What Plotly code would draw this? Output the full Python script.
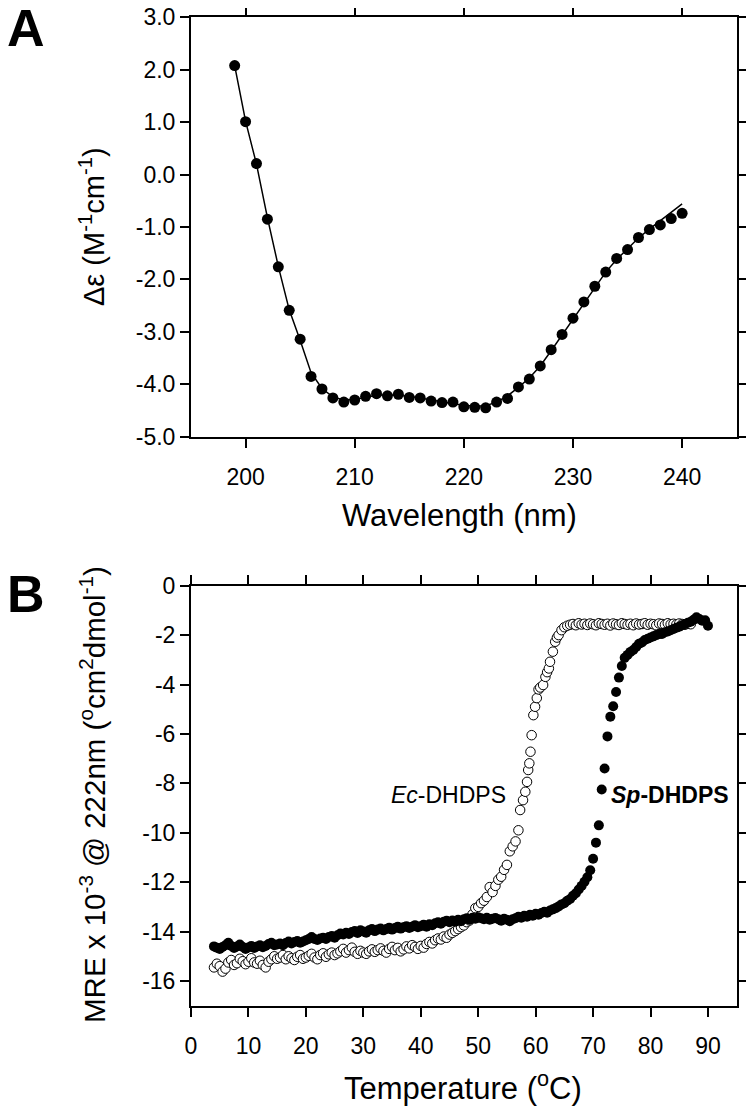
import plotly.graph_objects as go

# Panel A: far-UV CD spectrum
wavelength = [199, 200, 201, 202, 203, 204, 205, 206, 207, 208, 209, 210, 211, 212, 213,
              214, 215, 216, 217, 218, 219, 220, 221, 222, 223, 224, 225, 226, 227, 228,
              229, 230, 231, 232, 233, 234, 235, 236, 237, 238, 239, 240]
delta_eps = [2.08, 1.01, 0.21, -0.85, -1.76, -2.59, -3.14, -3.85, -4.09, -4.26, -4.34, -4.30,
             -4.23, -4.18, -4.22, -4.19, -4.25, -4.26, -4.32, -4.35, -4.34, -4.43, -4.44, -4.45,
             -4.34, -4.27, -4.05, -3.90, -3.65, -3.34, -3.05, -2.74, -2.43, -2.13, -1.86, -1.60,
             -1.43, -1.20, -1.05, -0.96, -0.84, -0.74]
delta_eps_fit = [2.08, 1.02, 0.20, -0.82, -1.75, -2.58, -3.16, -3.78, -4.08, -4.24, -4.30, -4.29,
                 -4.25, -4.21, -4.20, -4.21, -4.23, -4.26, -4.30, -4.34, -4.37, -4.40, -4.42, -4.41,
                 -4.34, -4.22, -4.06, -3.88, -3.65, -3.36, -3.06, -2.75, -2.45, -2.14, -1.86, -1.62,
                 -1.41, -1.21, -1.04, -0.88, -0.72, -0.56]
eps_ticks = [3, 2, 1, 0, -1, -2, -3, -4, -5]
eps_ticklabels = ["3.0", "2.0", "1.0", "0.0", "-1.0", "-2.0", "-3.0", "-4.0", "-5.0"]
wl_ticks = [200, 210, 220, 230, 240]

# Panel B: thermal denaturation, Sp-DHDPS (filled)
sp_temp = [4.0, 4.5, 5.0, 5.5, 6.0, 6.5, 7.0, 7.5, 8.0, 8.5, 9.0, 9.5, 10.0, 10.5, 11.0, 11.5,
           12.0, 12.5, 13.0, 13.5, 14.0, 14.5, 15.0, 15.5, 16.0, 16.5, 17.0, 17.5, 18.0, 18.5,
           19.0, 19.5, 20.0, 20.5, 21.0, 21.5, 22.0, 22.5, 23.0, 23.5, 24.0, 24.5, 25.0, 25.5,
           26.0, 26.5, 27.0, 27.5, 28.0, 28.5, 29.0, 29.5, 30.0, 30.5, 31.0, 31.5, 32.0, 32.5,
           33.0, 33.5, 34.0, 34.5, 35.0, 35.5, 36.0, 36.5, 37.0, 37.5, 38.0, 38.5, 39.0, 39.5,
           40.0, 40.5, 41.0, 41.5, 42.0, 42.5, 43.0, 43.5, 44.0, 44.5, 45.0, 45.5, 46.0, 46.5,
           47.0, 47.5, 48.0, 48.5, 49.0, 49.5, 50.0, 50.5, 51.0, 51.5, 52.0, 52.5, 53.0, 53.5,
           54.0, 54.5, 55.0, 55.5, 56.0, 56.5, 57.0, 57.5, 58.0, 58.5, 59.0, 59.5, 60.0, 60.5,
           61.0, 61.5, 62.0, 62.5, 63.0, 63.5, 64.0, 64.5, 65.0, 65.5, 66.0, 66.5, 67.0, 67.5,
           68.0, 68.5, 69.0, 69.5, 70.0, 70.5, 71.0, 71.5, 72.0, 72.5, 73.0, 73.5, 74.0, 74.5,
           75.0, 75.5, 76.0, 76.5, 77.0, 77.5, 78.0, 78.5, 79.0, 79.5, 80.0, 80.5, 81.0, 81.5,
           82.0, 82.5, 83.0, 83.5, 84.0, 84.5, 85.0, 85.5, 86.0, 86.5, 87.0, 87.5, 88.0, 88.5,
           89.0, 89.5, 90.0]
sp_mre = [-14.60, -14.65, -14.70, -14.62, -14.55, -14.45, -14.58, -14.66, -14.60, -14.52,
          -14.62, -14.70, -14.64, -14.58, -14.66, -14.60, -14.55, -14.63, -14.58, -14.50,
          -14.45, -14.55, -14.52, -14.48, -14.55, -14.46, -14.40, -14.48, -14.42, -14.38,
          -14.45, -14.40, -14.35, -14.30, -14.22, -14.30, -14.34, -14.28, -14.25, -14.30,
          -14.22, -14.18, -14.25, -14.15, -14.08, -14.12, -14.05, -14.10, -14.02, -13.98,
          -14.06, -13.95, -14.00, -14.05, -13.95, -13.90, -13.98, -13.92, -13.88, -13.95,
          -13.90, -13.84, -13.92, -13.86, -13.80, -13.88, -13.82, -13.78, -13.85, -13.80,
          -13.74, -13.82, -13.78, -13.72, -13.80, -13.70, -13.74, -13.66, -13.62, -13.68,
          -13.60, -13.56, -13.62, -13.55, -13.60, -13.52, -13.58, -13.50, -13.46, -13.52,
          -13.44, -13.48, -13.42, -13.46, -13.50, -13.44, -13.52, -13.48, -13.45, -13.50,
          -13.56, -13.48, -13.52, -13.58, -13.50, -13.46, -13.40, -13.44, -13.36, -13.40,
          -13.32, -13.36, -13.28, -13.32, -13.25, -13.20, -13.24, -13.15, -13.10, -13.05,
          -12.98, -12.90, -12.85, -12.75, -12.68, -12.55, -12.45, -12.30, -12.15, -11.98,
          -11.80, -11.52, -11.05, -10.40, -9.70, -8.25, -7.40, -6.10, -5.30, -4.88,
          -4.30, -3.72, -3.25, -2.92, -2.80, -2.68, -2.60, -2.48, -2.35, -2.30,
          -2.20, -2.15, -2.10, -2.05, -2.00, -1.96, -1.95, -1.88, -1.85, -1.80,
          -1.75, -1.70, -1.66, -1.60, -1.55, -1.50, -1.46, -1.38, -1.28, -1.35,
          -1.42, -1.40, -1.62]

# Panel B: Ec-DHDPS (open)
ec_temp = [4.0, 4.5, 5.0, 5.5, 6.0, 6.5, 7.0, 7.5, 8.0, 8.5, 9.0, 9.5, 10.0, 10.5, 11.0, 11.5,
           12.0, 12.5, 13.0, 13.5, 14.0, 14.5, 15.0, 15.5, 16.0, 16.5, 17.0, 17.5, 18.0, 18.5,
           19.0, 19.5, 20.0, 20.5, 21.0, 21.5, 22.0, 22.5, 23.0, 23.5, 24.0, 24.5, 25.0, 25.5,
           26.0, 26.5, 27.0, 27.5, 28.0, 28.5, 29.0, 29.5, 30.0, 30.5, 31.0, 31.5, 32.0, 32.5,
           33.0, 33.5, 34.0, 34.5, 35.0, 35.5, 36.0, 36.5, 37.0, 37.5, 38.0, 38.5, 39.0, 39.5,
           40.0, 40.5, 41.0, 41.5, 42.0, 42.5, 43.0, 43.5, 44.0, 44.5, 45.0, 45.5, 46.0, 46.5,
           47.0, 47.5, 48.0, 48.5, 49.0, 49.5, 50.0, 50.5, 51.0, 51.5, 52.0, 52.5, 53.0, 53.5,
           54.0, 54.5, 55.0, 55.5, 56.0, 56.5, 57.0, 57.3, 57.8, 58.2, 58.5, 58.7, 58.9, 59.1,
           59.3, 59.6, 59.9, 60.2, 60.5, 60.8, 61.3, 61.7, 62.0, 62.3, 62.5, 63.0, 63.4, 63.7,
           64.0, 64.5, 65.0, 65.5, 66.0, 66.5, 67.0, 67.5, 68.0, 68.5, 69.0, 69.5, 70.0, 70.5,
           71.0, 71.5, 72.0, 72.5, 73.0, 73.5, 74.0, 74.5, 75.0, 75.5, 76.0, 76.5, 77.0, 77.5,
           78.0, 78.5, 79.0, 79.5, 80.0, 80.5, 81.0, 81.5, 82.0, 82.5, 83.0, 83.5, 84.0, 84.5,
           85.0, 85.5, 86.0, 86.5, 87.0, 87.5, 88.0, 88.5, 89.0, 89.5, 90.0]
ec_mre = [-15.45, -15.30, -15.40, -15.62, -15.50, -15.25, -15.15, -15.35, -15.28, -15.10,
          -15.20, -15.32, -15.22, -15.08, -15.25, -15.30, -15.18, -15.35, -15.45, -15.22,
          -15.12, -15.00, -15.10, -15.05, -14.95, -15.12, -15.00, -15.08, -15.15, -15.02,
          -14.95, -15.10, -15.05, -14.98, -14.90, -15.05, -15.12, -14.95, -14.88, -15.02,
          -14.92, -14.85, -14.95, -14.88, -14.80, -14.70, -14.85, -14.75, -14.65, -14.82,
          -14.90, -14.78, -14.85, -14.90, -14.80, -14.72, -14.82, -14.75, -14.68, -14.78,
          -14.85, -14.70, -14.62, -14.75, -14.66, -14.80, -14.72, -14.60, -14.68, -14.55,
          -14.62, -14.70, -14.58, -14.65, -14.50, -14.42, -14.48, -14.35, -14.28, -14.32,
          -14.20, -14.25, -14.12, -14.05, -13.98, -13.90, -13.82, -13.75, -13.62, -13.55,
          -13.30, -13.05, -13.00, -12.85, -12.75, -12.60, -12.20, -12.40, -12.15, -11.90,
          -11.78, -11.50, -11.30, -10.75, -10.55, -10.35, -9.90, -9.08, -8.68, -8.34,
          -7.94, -7.46, -7.19, -6.72, -6.05, -5.24, -4.90, -4.55, -4.20, -4.12,
          -4.02, -3.69, -3.50, -3.35, -3.08, -2.67, -2.27, -2.10, -2.00, -1.80,
          -1.68, -1.62, -1.58, -1.55, -1.60, -1.52, -1.57, -1.54, -1.59, -1.53,
          -1.56, -1.60, -1.52, -1.55, -1.58, -1.54, -1.61, -1.53, -1.56, -1.59,
          -1.52, -1.55, -1.58, -1.54, -1.60, -1.53, -1.57, -1.55, -1.52, -1.58,
          -1.54, -1.56, -1.60, -1.53, -1.55, -1.58, -1.52, -1.56, -1.54, -1.57,
          -1.53, -1.55, -1.58, -1.54, -1.56]
mre_ticks = [0, -2, -4, -6, -8, -10, -12, -14, -16]
mre_ticklabels = ["0", "-2", "-4", "-6", "-8", "-10", "-12", "-14", "-16"]
temp_ticks = [0, 10, 20, 30, 40, 50, 60, 70, 80, 90]

FONT = "Arial, Liberation Sans, sans-serif"
# the page body keeps its default 8px margin, so the figure is 8px smaller than the window
OFF = 8
W, H = 754 - OFF, 1110 - OFF


def px_x(x):
    return (x - OFF) / W


def px_y(y):
    return 1 - (y - OFF) / H


fig = go.Figure()

fig.add_trace(go.Scatter(x=wavelength, y=delta_eps_fit, mode="lines",
                         line=dict(color="black", width=1.5),
                         xaxis="x", yaxis="y", showlegend=False))
fig.add_trace(go.Scatter(x=wavelength, y=delta_eps, mode="markers",
                         marker=dict(color="black", size=11),
                         xaxis="x", yaxis="y", showlegend=False))

fig.add_trace(go.Scatter(x=ec_temp, y=ec_mre, mode="markers",
                         marker=dict(color="white", size=9.5, line=dict(color="black", width=1)),
                         xaxis="x2", yaxis="y2", showlegend=False))
fig.add_trace(go.Scatter(x=sp_temp, y=sp_mre, mode="markers",
                         marker=dict(color="black", size=10),
                         xaxis="x2", yaxis="y2", showlegend=False))

axis_style = dict(showline=True, linecolor="black", linewidth=2, mirror="ticks",
                  ticks="outside", ticklen=9, tickwidth=2, tickcolor="black",
                  showgrid=False, zeroline=False, automargin=False,
                  ticklabeloverflow="allow",
                  tickfont=dict(family=FONT, size=23, color="black"))

x_dom = [px_x(191), px_x(736.7)]

fig.update_layout(
    width=W, height=H,
    margin=dict(l=0, r=0, t=0, b=0, autoexpand=False),
    plot_bgcolor="white", paper_bgcolor="white",
    font=dict(family=FONT, color="black"),
    xaxis=dict(domain=x_dom, range=[195, 245], tickvals=wl_ticks,
               anchor="y", ticklabelstandoff=10, **axis_style),
    yaxis=dict(domain=[px_y(436.7), px_y(17.3)], range=[-5, 3], tickvals=eps_ticks,
               ticktext=eps_ticklabels, anchor="x", **axis_style),
    xaxis2=dict(domain=x_dom, range=[0, 95], tickvals=temp_ticks,
                anchor="y2", ticklabelstandoff=10, **axis_style),
    yaxis2=dict(domain=[px_y(1005.7), px_y(585.7)], range=[-17, 0], tickvals=mre_ticks,
                ticktext=mre_ticklabels, anchor="x2", **axis_style),
)

# panel letters and axis titles, placed by window pixel
annotations = [
    dict(text="<b>A</b>", x=26, y=28, size=52, angle=0),
    dict(text="<b>B</b>", x=26, y=594, size=52, angle=0),
    dict(text="Wavelength (nm)", x=460, y=515, size=31, angle=0),
    dict(text="Temperature (<sup>o</sup>C)", x=463, y=1086, size=31, angle=0),
    dict(text="\u0394\u03b5 (M<sup>-1</sup>cm<sup>-1</sup>)", x=92, y=227, size=29, angle=-90),
    dict(text="MRE x 10<sup>-3</sup> @ 222nm (<sup>o</sup>cm<sup>2</sup>dmol<sup>-1</sup>)",
         x=92, y=795, size=29.5, angle=-90),
]
for a in annotations:
    fig.add_annotation(text=a["text"], x=px_x(a["x"]), y=px_y(a["y"]),
                       xref="paper", yref="paper", showarrow=False,
                       xanchor="center", yanchor="middle", textangle=a["angle"],
                       font=dict(family=FONT, color="black", size=a["size"]))

fig.add_annotation(text="<i>Ec</i>-DHDPS", x=55.2, y=-8.48, xref="x2", yref="y2",
                   showarrow=False, xanchor="right", yanchor="middle",
                   font=dict(family=FONT, size=23, color="black"))
fig.add_annotation(text="<b><i>Sp</i>-DHDPS</b>", x=72.8, y=-8.48, xref="x2", yref="y2",
                   showarrow=False, xanchor="left", yanchor="middle",
                   font=dict(family=FONT, size=23, color="black"))

fig.write_html("out.html")
